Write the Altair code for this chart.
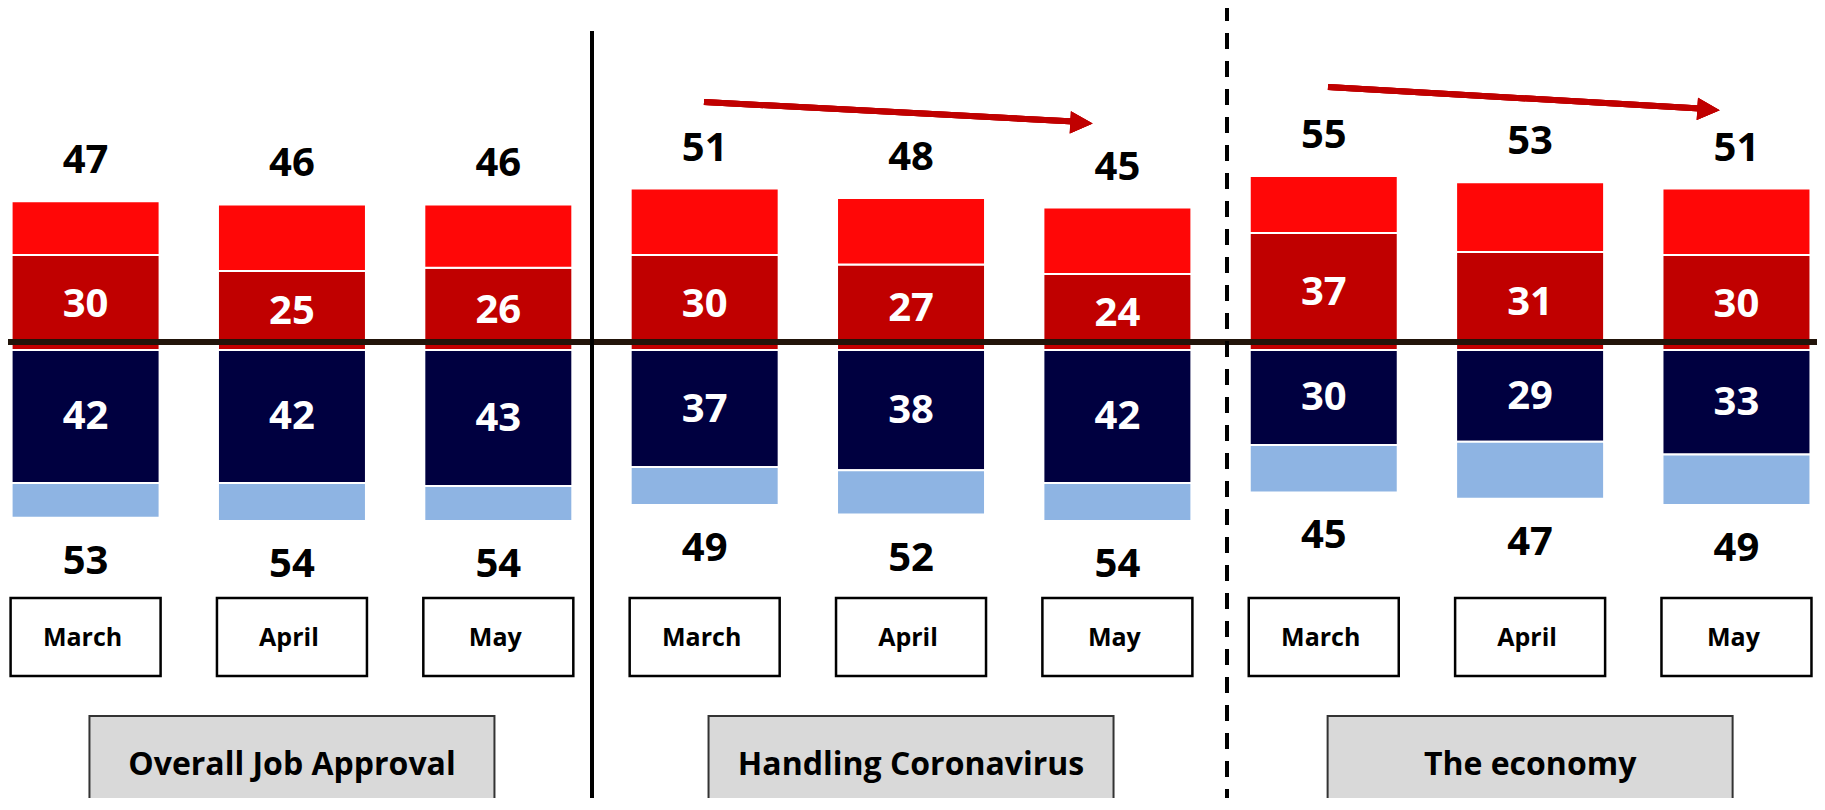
import altair as alt
import pandas as pd

# ---- data ----
sections = ["Overall Job Approval", "Handling Coronavirus", "The economy"]
months = ["March", "April", "May"]

top_total = [47, 46, 46, 51, 48, 45, 55, 53, 51]      # light + dark red (upper)
top_strong = [30, 25, 26, 30, 27, 24, 37, 31, 30]     # dark red
bottom_total = [53, 54, 54, 49, 52, 54, 45, 47, 49]   # navy + light blue (lower)
bottom_strong = [42, 42, 43, 37, 38, 42, 30, 29, 33]  # navy

W, H = 1809, 790
FONT = "Open Sans"

n = len(top_total)
idx = list(range(n))
month_col = [months[i % 3] for i in idx]

rows = []
for i in idx:
    rows.append(dict(idx=i, seg="Strongly approve", y0=0, y1=top_strong[i]))
    rows.append(dict(idx=i, seg="Somewhat approve", y0=top_strong[i], y1=top_total[i]))
    rows.append(dict(idx=i, seg="Strongly disapprove", y0=0, y1=-bottom_strong[i]))
    rows.append(dict(idx=i, seg="Somewhat disapprove", y0=-bottom_strong[i], y1=-bottom_total[i]))
bars_df = pd.DataFrame(rows)

lab_df = pd.DataFrame(dict(
    idx=idx,
    month=month_col,
    top_total=top_total,
    top_strong=top_strong,
    bottom_total=[-v for v in bottom_total],
    bottom_strong=[-v for v in bottom_strong],
    top_mid=[v / 2 for v in top_strong],
    bottom_mid=[-v / 2 for v in bottom_strong],
    top_txt=[str(v) for v in top_total],
    topS_txt=[str(v) for v in top_strong],
    bot_txt=[str(v) for v in bottom_total],
    botS_txt=[str(v) for v in bottom_strong],
))

sec_df = pd.DataFrame(dict(idx=[1, 4, 7], section=sections))

xs = alt.Scale(domain=[-0.3518, 8.366], nice=False, zero=False)
ys = alt.Scale(domain=[-141.55, 108.06], nice=False, zero=False)
X = alt.X("idx:Q", scale=xs, axis=None)

color = alt.Color(
    "seg:N",
    scale=alt.Scale(
        domain=["Somewhat approve", "Strongly approve", "Strongly disapprove", "Somewhat disapprove"],
        range=["#FF0707", "#C00000", "#000040", "#8EB4E3"],
    ),
    legend=None,
)

bars = alt.Chart(bars_df).mark_bar(size=148, stroke="white", strokeWidth=2).encode(
    x=X,
    y=alt.Y("y0:Q", scale=ys, axis=None),
    y2="y1:Q",
    color=color,
)

zero_line = alt.Chart(lab_df).mark_rule(color="#22140A", strokeWidth=5, yOffset=-8).encode(
    y=alt.datum(0, scale=ys),
    x=alt.value(-10),
    x2=alt.value(W + 10),
)

base = alt.Chart(lab_df)
txt_kw = dict(font=FONT, fontWeight="bold", fontSize=40, baseline="middle", align="center")

top_lab = base.mark_text(dy=-40, color="black", **txt_kw).encode(
    x=X, y=alt.Y("top_total:Q", scale=ys), text="top_txt:N")
bot_lab = base.mark_text(dy=44, color="black", **txt_kw).encode(
    x=X, y=alt.Y("bottom_total:Q", scale=ys), text="bot_txt:N")
topS_lab = base.mark_text(dy=2, color="white", **txt_kw).encode(
    x=X, y=alt.Y("top_mid:Q", scale=ys), text="topS_txt:N")
botS_lab = base.mark_text(dy=1, color="white", **txt_kw).encode(
    x=X, y=alt.Y("bottom_mid:Q", scale=ys), text="botS_txt:N")

month_box = base.mark_bar(size=150, fill="white", stroke="black", strokeWidth=2.5).encode(
    x=X, y=alt.value(590), y2=alt.value(668))
month_txt = base.mark_text(font=FONT, fontWeight="bold", fontSize=25, color="black",
                           baseline="middle", align="center", dx=-3).encode(
    x=X, y=alt.value(630), text="month:N")

sec_box = alt.Chart(sec_df).mark_bar(size=405, fill="#D9D9D9", stroke="#333333", strokeWidth=2).encode(
    x=X, y=alt.value(708), y2=alt.value(H + 10))
sec_txt = alt.Chart(sec_df).mark_text(font=FONT, fontWeight="bold", fontSize=32, color="black",
                                      baseline="middle", align="center").encode(
    x=X, y=alt.value(757), text="section:N")

sep_solid = alt.Chart(sec_df).mark_rule(color="black", strokeWidth=4).encode(
    x=alt.value(584), y=alt.value(23), y2=alt.value(H))
sep_dash = alt.Chart(sec_df).mark_rule(color="black", strokeWidth=4, strokeDash=[16, 12],
                                       strokeDashOffset=3).encode(
    x=alt.value(1219), y=alt.value(0), y2=alt.value(H))

ARROW = "#C00000"
arrow1 = alt.Chart(sec_df).mark_rule(color=ARROW, strokeWidth=6).encode(
    x=alt.value(696), y=alt.value(94), x2=alt.value(1066), y2=alt.value(113.5))
head1 = alt.Chart(sec_df).mark_point(shape="M-1,-1L1,0L-1,1Z", size=500, filled=True,
                                     color=ARROW, opacity=1, angle=3.1).encode(
    x=alt.value(1073.5), y=alt.value(115))
arrow2 = alt.Chart(sec_df).mark_rule(color=ARROW, strokeWidth=6).encode(
    x=alt.value(1320), y=alt.value(79), x2=alt.value(1692), y2=alt.value(100.5))
head2 = alt.Chart(sec_df).mark_point(shape="M-1,-1L1,0L-1,1Z", size=500, filled=True,
                                     color=ARROW, opacity=1, angle=3.4).encode(
    x=alt.value(1700.5), y=alt.value(101.5))

chart = alt.layer(
    bars, zero_line, top_lab, bot_lab, topS_lab, botS_lab,
    month_box, month_txt, sec_box, sec_txt, sep_solid, sep_dash,
    arrow1, head1, arrow2, head2,
).properties(
    width=W, height=H, padding=0,
    autosize=alt.AutoSizeParams(type="none"),
).configure_view(stroke=None)

chart.save("out.html", embed_options={"renderer": "svg", "actions": False})
